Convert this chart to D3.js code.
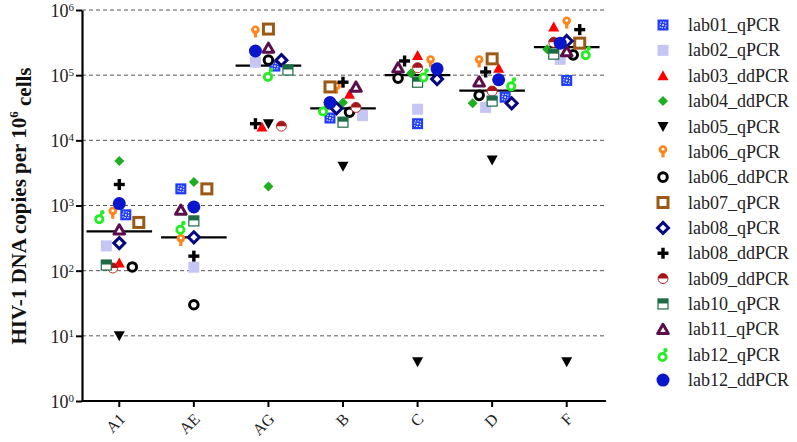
<!DOCTYPE html>
<html>
<head>
<meta charset="utf-8">
<script src="https://cdn.jsdelivr.net/npm/d3@7"></script>
<style>
  body { margin: 0; background: #fff; }
  svg { display: block; font-family: "Liberation Serif", "Times New Roman", serif; }
</style>
</head>
<body>
<svg id="chart" width="797" height="442"></svg>
<script>
// subtypes on the x axis
var categories = ["A1", "AE", "AG", "B", "C", "D", "F"];

var labs = ["lab01_qPCR", "lab02_qPCR", "lab03_ddPCR", "lab04_ddPCR", "lab05_qPCR",
  "lab06_qPCR", "lab06_ddPCR", "lab07_qPCR", "lab08_qPCR", "lab08_ddPCR",
  "lab09_ddPCR", "lab10_qPCR", "lab11_qPCR", "lab12_qPCR", "lab12_ddPCR"];

// copies per 10^6 cells, one entry per lab (same order as labs), null = not tested
var valuesA1 = [720, 240, 131, 4800, 10, 760, 114, 550, 265, 2100, 110, 122, 425, 670, 1070];
var valuesAE = [1800, 113, null, 2300, null, 290, 30, 1800, 325, 167, null, 580, 850, 460, 950];
var valuesAG = [138000, 158000, 16000, 1950, 18000, 460000, 170000, 510000, 170000, 18000, 16500, 120000, 260000, 102000, 235000];
var valuesB = [22000, 24000, 51000, 38000, 4000, 63000, 27000, 66000, 31000, 78000, 32000, 19000, 66000, 30000, 38000];
var valuesC = [18000, 30000, 200000, 107000, 4, 160000, 90000, null, 87000, 165000, 130000, 78000, 130000, 100000, 125000];
var valuesD = [46000, 32000, 128000, 37000, 5000, 160000, 49000, 178000, 37000, 112000, 57000, 40000, 79000, 73000, 85000];
var valuesF = [83000, 175000, 550000, 250000, 4, 630000, 205000, 310000, 335000, 500000, 320000, 210000, 230000, 220000, 310000];

// horizontal bar per subtype
var medians = [400, 325, 140000, 31000, 100000, 58000, 270000];

var yTickValues = [1, 10, 100, 1000, 10000, 100000, 1000000];
var yTickExponents = ["0", "1", "2", "3", "4", "5", "6"];

var allValues = [valuesA1, valuesAE, valuesAG, valuesB, valuesC, valuesD, valuesF];

var svg = d3.select("svg#chart");

var plotLeft = 82, plotRight = 604, plotTop = 10, plotBottom = 401;

var x = d3.scaleBand()
    .domain(categories)
    .range([plotLeft, plotRight]);

var y = d3.scaleLog()
    .domain([1, 1e6])
    .range([plotBottom, plotTop]);

// marker painters, each drawn around (0,0)
function drawMarker(g, i) {
  switch (i) {
    case 0:
      g.append("rect").attr("x", -5.5).attr("y", -5.5).attr("width", 11).attr("height", 11).attr("fill", "#1f3cff");
      g.append("rect").attr("x", -2.8).attr("y", -2.8).attr("width", 5.6).attr("height", 5.6)
        .attr("fill", "none").attr("stroke", "#fff").attr("stroke-width", 1).attr("stroke-dasharray", "1.4,1.4");
      g.append("circle").attr("r", 0.9).attr("fill", "#fff");
      break;
    case 1:
      g.append("rect").attr("x", -5.5).attr("y", -5.5).attr("width", 11).attr("height", 11).attr("fill", "#c6c6f4");
      break;
    case 2:
      g.append("path").attr("d", "M0,-5.5L5.5,4.5L-5.5,4.5Z").attr("fill", "#ff0000");
      break;
    case 3:
      g.append("path").attr("d", "M0,-5L5,0L0,5L-5,0Z").attr("fill", "#1fae1f");
      break;
    case 4:
      g.append("path").attr("d", "M-5.5,-4.5L5.5,-4.5L0,5.5Z").attr("fill", "#000");
      break;
    case 5:
      g.append("rect").attr("x", -1.6).attr("y", -1).attr("width", 3.2).attr("height", 6.5).attr("fill", "#ff8419");
      g.append("circle").attr("cy", -2.3).attr("r", 4.3).attr("fill", "#ff8419");
      g.append("circle").attr("cy", -2.6).attr("r", 1.4).attr("fill", "#fff");
      break;
    case 6:
      g.append("circle").attr("r", 4.3).attr("fill", "#fff").attr("stroke", "#000").attr("stroke-width", 3);
      break;
    case 7:
      g.append("rect").attr("x", -5).attr("y", -5).attr("width", 10).attr("height", 10)
        .attr("fill", "#fff").attr("stroke", "#9a5a16").attr("stroke-width", 3);
      break;
    case 8:
      g.append("path").attr("d", "M0,-5.5L5.5,0L0,5.5L-5.5,0Z")
        .attr("fill", "#fff").attr("stroke", "#06067e").attr("stroke-width", 3);
      break;
    case 9:
      g.append("rect").attr("x", -5.5).attr("y", -1.7).attr("width", 11).attr("height", 3.4).attr("fill", "#000");
      g.append("rect").attr("x", -1.7).attr("y", -5.5).attr("width", 3.4).attr("height", 11).attr("fill", "#000");
      break;
    case 10:
      g.append("circle").attr("r", 5).attr("fill", "#fff").attr("stroke", "#c42a2a").attr("stroke-width", 1);
      g.append("path").attr("d", "M-5,0A5,5 0 0 1 5,0Z").attr("fill", "#a3161a");
      break;
    case 11:
      g.append("rect").attr("x", -5).attr("y", -5).attr("width", 10).attr("height", 10)
        .attr("fill", "#fff").attr("stroke", "#1d6a45").attr("stroke-width", 1.2);
      g.append("rect").attr("x", -5).attr("y", -5).attr("width", 10).attr("height", 4.5).attr("fill", "#1d6a45");
      break;
    case 12:
      g.append("path").attr("d", "M0,-5L5.3,4.2L-5.3,4.2Z")
        .attr("fill", "#fff").attr("stroke", "#5a0f4c").attr("stroke-width", 3).attr("stroke-linejoin", "round");
      break;
    case 13:
      g.append("line").attr("x1", 0.5).attr("y1", -1).attr("x2", 2.5).attr("y2", -4.5)
        .attr("stroke", "#22ee22").attr("stroke-width", 2);
      g.append("circle").attr("cx", -0.5).attr("cy", 2.3).attr("r", 3.6)
        .attr("fill", "#fff").attr("stroke", "#22ee22").attr("stroke-width", 2.8);
      g.append("circle").attr("cx", 2.5).attr("cy", -4.6).attr("r", 2.2).attr("fill", "#22ee22");
      break;
    case 14:
      g.append("circle").attr("r", 6.5).attr("fill", "#0a16cc");
      break;
  }
}

// gridlines
svg.append("g")
  .selectAll("line")
  .data(yTickValues.slice(1))
  .enter()
  .append("line")
  .attr("x1", plotLeft)
  .attr("x2", plotRight + 1)
  .attr("y1", function(d) { return y(d); })
  .attr("y2", function(d) { return y(d); })
  .attr("stroke", "#555")
  .attr("stroke-width", 1)
  .attr("stroke-dasharray", "4,3");

// y axis
var yAxis = svg.append("g")
  .attr("transform", "translate(" + plotLeft + ",0)")
  .call(d3.axisLeft(y).tickValues(yTickValues).tickSize(6).tickSizeOuter(0).tickFormat(""));
yAxis.select(".domain").attr("stroke", "#000").attr("stroke-width", 2.2);
yAxis.selectAll(".tick line").attr("stroke", "#000").attr("stroke-width", 2);
yAxis.selectAll(".tick").each(function(d, i) {
  var t = d3.select(this).append("text")
    .attr("x", -8)
    .attr("dy", "0.36em")
    .attr("fill", "#222")
    .style("text-anchor", "end")
    .style("font-size", "18px")
    .style("font-family", "Liberation Serif, serif");
  t.append("tspan").text("10");
  t.append("tspan").attr("dy", "-0.55em").style("font-size", "11px").text(yTickExponents[i]);
});

// x axis
var xAxis = svg.append("g")
  .attr("transform", "translate(0," + plotBottom + ")")
  .call(d3.axisBottom(x).tickSize(6).tickSizeOuter(0));
xAxis.select(".domain").attr("stroke", "#000").attr("stroke-width", 2.2).attr("d", "M" + plotLeft + ",0H" + (plotRight + 2));
xAxis.selectAll(".tick line").attr("stroke", "#000").attr("stroke-width", 2);
xAxis.selectAll(".tick text")
  .attr("x", 0).attr("y", 0).attr("dy", "0.35em")
  .attr("transform", "translate(3,15) rotate(-45)")
  .attr("fill", "#222")
  .style("text-anchor", "end")
  .style("font-size", "16px")
  .style("font-family", "Liberation Serif, serif");

// y title
var title = svg.append("text")
  .attr("transform", "translate(26,206) rotate(-90)")
  .style("text-anchor", "middle")
  .style("font-weight", "bold")
  .style("font-size", "21px")
  .attr("fill", "#111");
title.append("tspan").text("HIV-1 DNA copies per 10");
title.append("tspan").attr("dy", "-0.6em").style("font-size", "13px").text("6");
title.append("tspan").attr("dy", "0.6em").text(" cells");

// spread points sideways so they do not sit on top of each other
function swarm(points) {
  var sorted = points.slice().sort(function(a, b) { return a.py - b.py; });
  var placed = [];
  var step = 6.5, minD = 10.5, maxK = 3;
  sorted.forEach(function(p) {
    var best = 0, bestScore = -1;
    for (var k = 0; k <= 2 * maxK; k++) {
      var off = (k === 0 ? 0 : (k % 2 ? -1 : 1) * Math.ceil(k / 2)) * step;
      var md = d3.min(placed, function(q) { return Math.hypot(q.dx - off, q.py - p.py); });
      if (md === undefined || md >= minD) { best = off; break; }
      if (md > bestScore) { bestScore = md; best = off; }
    }
    p.dx = best;
    placed.push(p);
  });
}

var points = [];
categories.forEach(function(c, ci) {
  var group = [];
  allValues[ci].forEach(function(v, li) {
    if (v === null) return;
    group.push({cat: c, lab: li, value: v, py: y(v), dx: 0});
  });
  swarm(group);
  points = points.concat(group);
});

// median bars
svg.append("g")
  .selectAll("line")
  .data(medians)
  .enter()
  .append("line")
  .attr("x1", function(d, i) { return x(categories[i]) + x.bandwidth() * 0.06; })
  .attr("x2", function(d, i) { return x(categories[i]) + x.bandwidth() * 0.94; })
  .attr("y1", function(d) { return y(d); })
  .attr("y2", function(d) { return y(d); })
  .attr("stroke", "#000")
  .attr("stroke-width", 2.2);

// points, drawn in legend order
points.sort(function(a, b) { return a.lab - b.lab; });
svg.append("g")
  .selectAll("g")
  .data(points)
  .enter()
  .append("g")
  .attr("transform", function(d) {
    return "translate(" + (x(d.cat) + x.bandwidth() / 2 + d.dx) + "," + d.py + ")";
  })
  .each(function(d) { drawMarker(d3.select(this), d.lab); });

// legend
var legend = svg.append("g").attr("transform", "translate(663,25)");
var rows = legend.selectAll("g")
  .data(labs)
  .enter()
  .append("g")
  .attr("transform", function(d, i) { return "translate(0," + (i * 25.36) + ")"; });
rows.each(function(d, i) { drawMarker(d3.select(this), i); });
rows.append("text")
  .attr("x", 25)
  .attr("dy", "0.34em")
  .attr("fill", "#222")
  .style("font-size", "18px")
  .style("font-family", "Liberation Serif, serif")
  .text(function(d) { return d; });
</script>
</body>
</html>
